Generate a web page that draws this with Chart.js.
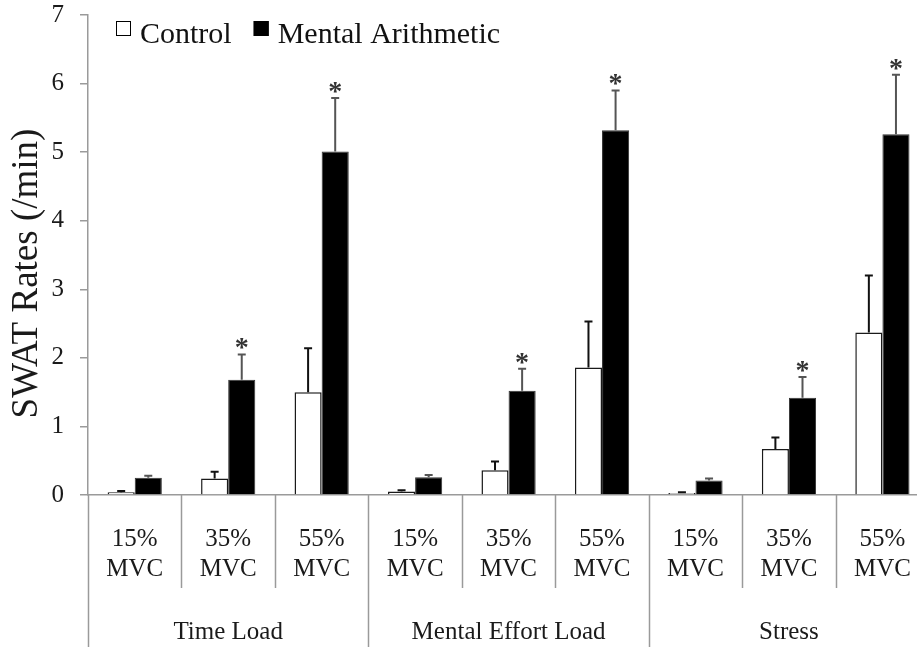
<!DOCTYPE html>
<html>
<head>
<meta charset="utf-8">
<script src="https://cdn.jsdelivr.net/npm/chart.js@4/dist/chart.umd.min.js"></script>
<style>
  html, body { margin: 0; padding: 0; background: #fff; overflow: hidden; }
  #wrap { position: relative; width: 932px; height: 647px; }
</style>
</head>
<body>
<div id="wrap"><canvas id="swatChart"></canvas></div>
<script>
// --- data ---
const mvcLabels = [
  ["15%", "MVC"], ["35%", "MVC"], ["55%", "MVC"],
  ["15%", "MVC"], ["35%", "MVC"], ["55%", "MVC"],
  ["15%", "MVC"], ["35%", "MVC"], ["55%", "MVC"]
];
const groupLabels = ["Time Load", "Mental Effort Load", "Stress"];
const yTicks = [0, 1, 2, 3, 4, 5, 6, 7];

const controlMeans = [0.04, 0.24, 1.50, 0.05, 0.36, 1.86, 0.03, 0.67, 2.37];
const controlErr   = [0.02, 0.10, 0.64, 0.02, 0.13, 0.67, 0.01, 0.17, 0.83];
const mentalMeans  = [0.25, 1.68, 5.01, 0.26, 1.52, 5.32, 0.21, 1.42, 5.26];
const mentalErr    = [0.03, 0.37, 0.78, 0.03, 0.32, 0.58, 0.03, 0.30, 0.87];
const significant  = [false, true, true, false, true, true, false, true, true];

const SERIF = "'Liberation Serif', 'Times New Roman', serif";
const AXIS_GREY = "#9a9a9a";

// error bars (upward only) + significance stars
const errorBarPlugin = {
  id: "errorBars",
  afterDatasetsDraw(chart) {
    const ctx = chart.ctx;
    const y = chart.scales.y;
    chart.data.datasets.forEach((ds, d) => {
      const meta = chart.getDatasetMeta(d);
      meta.data.forEach((bar, i) => {
        const top = y.getPixelForValue(ds.data[i] + ds.errors[i]);
        ctx.save();
        ctx.strokeStyle = ds.errorColor;
        ctx.lineWidth = 2;
        ctx.beginPath();
        ctx.moveTo(bar.x, bar.y);
        ctx.lineTo(bar.x, top);
        ctx.moveTo(bar.x - 4, top);
        ctx.lineTo(bar.x + 4, top);
        ctx.stroke();
        if (ds.stars && ds.stars[i]) {
          ctx.fillStyle = "#333";
          ctx.font = "bold 28px " + SERIF;
          ctx.textAlign = "center";
          ctx.textBaseline = "alphabetic";
          ctx.fillText("*", bar.x, top + 2);
        }
        ctx.restore();
      });
    });
  }
};

// divider lines under the x axis
const dividerPlugin = {
  id: "dividers",
  afterDraw(chart) {
    const ctx = chart.ctx;
    const x = chart.scales.x;
    const half = (x.getPixelForValue(1) - x.getPixelForValue(0)) / 2;
    const base = chart.chartArea.bottom;
    ctx.save();
    ctx.strokeStyle = AXIS_GREY;
    ctx.lineWidth = 1.5;
    for (let i = 0; i <= mvcLabels.length; i++) {
      const px = Math.round(x.getPixelForValue(i) - half) + 0.5;
      const end = i % 3 === 0 ? chart.height : x.bottom + 5;
      ctx.beginPath();
      ctx.moveTo(px, base);
      ctx.lineTo(px, end);
      ctx.stroke();
    }
    ctx.restore();
  }
};

// legend drawn inside the plot area, top left
const insideLegend = {
  id: "insideLegend",
  afterDraw(chart) {
    const ctx = chart.ctx;
    const area = chart.chartArea;
    let cx = area.left + 28;
    ctx.save();
    ctx.font = "30px " + SERIF;
    ctx.textBaseline = "alphabetic";
    ctx.textAlign = "left";
    chart.data.datasets.forEach(ds => {
      ctx.fillStyle = ds.backgroundColor;
      ctx.fillRect(cx, area.top + 6, 15, 15);
      ctx.strokeStyle = "#000";
      ctx.lineWidth = 1;
      ctx.strokeRect(cx + 0.5, area.top + 6.5, 14, 14);
      cx += 24;
      ctx.fillStyle = "#111";
      ctx.fillText(ds.label, cx, area.top + 28);
      cx += ctx.measureText(ds.label).width + 22;
    });
    ctx.restore();
  }
};

new Chart(document.getElementById("swatChart"), {
  type: "bar",
  data: {
    labels: mvcLabels,
    datasets: [
      {
        label: "Control",
        data: controlMeans,
        errors: controlErr,
        errorColor: "#111",
        backgroundColor: "#ffffff",
        borderColor: "#1a1a1a",
        borderWidth: 1.5,
        categoryPercentage: 0.58,
        barPercentage: 1.0
      },
      {
        label: "Mental Arithmetic",
        data: mentalMeans,
        errors: mentalErr,
        errorColor: "#555",
        stars: significant,
        backgroundColor: "#000000",
        borderColor: "#333",
        borderWidth: 1,
        categoryPercentage: 0.58,
        barPercentage: 1.0
      }
    ]
  },
  options: {
    responsive: true,
    maintainAspectRatio: false,
    animation: false,
    layout: { padding: { top: 0, right: 2, left: 0, bottom: 0 } },
    plugins: {
      legend: { display: false },
      tooltip: { enabled: false }
    },
    scales: {
      y: {
        min: 0,
        max: 7,
        afterBuildTicks: s => { s.ticks = yTicks.map(v => ({ value: v })); },
        afterFit: s => { s.width = 88; s.paddingTop = 15; s.paddingBottom = 15; },
        border: { display: true, color: AXIS_GREY, width: 1.5 },
        grid: { drawOnChartArea: false, drawTicks: true, tickLength: 8, color: AXIS_GREY, lineWidth: 1.5 },
        ticks: { padding: 16, color: "#1a1a1a", font: { family: SERIF, size: 25 } },
        title: {
          display: true,
          text: "SWAT Rates (/min)    ",
          color: "#1a1a1a",
          padding: { top: 5, bottom: 0 },
          font: { family: SERIF, size: 37 }
        }
      },
      x: {
        afterFit: s => { s.height = 88; },
        border: { display: true, color: AXIS_GREY, width: 1.5 },
        grid: { display: false },
        ticks: {
          padding: 21,
          maxRotation: 0,
          autoSkip: false,
          color: "#1a1a1a",
          font: { family: SERIF, size: 25, lineHeight: 1.2 }
        }
      },
      x2: {
        type: "category",
        labels: groupLabels,
        position: "bottom",
        offset: true,
        afterFit: s => { s.height = 64; },
        border: { display: false },
        grid: { display: false },
        ticks: {
          padding: 26,
          maxRotation: 0,
          color: "#1a1a1a",
          font: { family: SERIF, size: 25, lineHeight: 1.2 }
        }
      }
    }
  },
  plugins: [errorBarPlugin, dividerPlugin, insideLegend]
});
</script>
</body>
</html>
